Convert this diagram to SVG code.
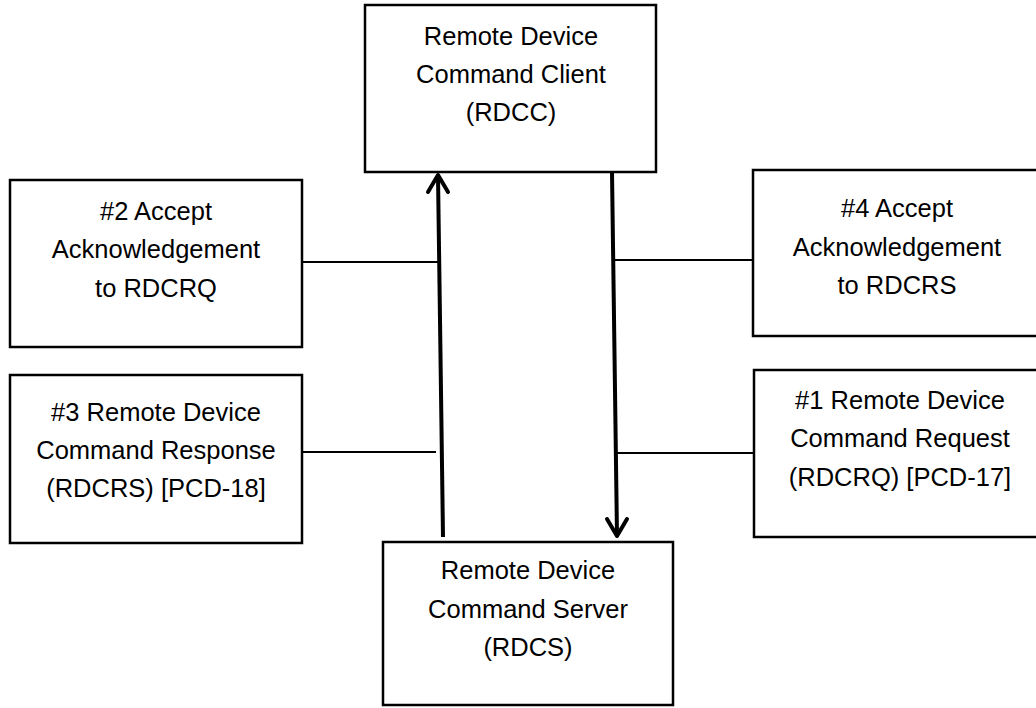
<svg xmlns="http://www.w3.org/2000/svg" width="1036" height="708" viewBox="0 0 1036 708">
  <style>
    .box { fill: #ffffff; stroke: #000000; stroke-width: 2.5; }
    .lbl { font-family: "Liberation Sans", Arial, sans-serif; font-size: 25.5px; fill: #000000; text-anchor: middle; }
    .flow { stroke: #000000; stroke-width: 4; fill: none; }
    .tie { stroke: #000000; stroke-width: 2; fill: none; }
    .head { stroke: #000000; stroke-width: 4; fill: none; stroke-linecap: round; stroke-linejoin: round; }
  </style>
  <rect width="1036" height="708" fill="#ffffff"/>

  <!-- client / server -->
  <g id="rdcc">
    <rect class="box" x="365" y="5" width="291" height="167"/>
    <text class="lbl" x="511" y="45">Remote Device</text>
    <text class="lbl" x="511" y="83">Command Client</text>
    <text class="lbl" x="511" y="121">(RDCC)</text>
  </g>
  <g id="rdcs">
    <rect class="box" x="383" y="542" width="290" height="163"/>
    <text class="lbl" x="528" y="579">Remote Device</text>
    <text class="lbl" x="528" y="618">Command Server</text>
    <text class="lbl" x="528" y="656">(RDCS)</text>
  </g>

  <!-- message boxes -->
  <g id="msg2">
    <rect class="box" x="10" y="180" width="292" height="167"/>
    <text class="lbl" x="156" y="220">#2 Accept</text>
    <text class="lbl" x="156" y="258">Acknowledgement</text>
    <text class="lbl" x="156" y="297">to RDCRQ</text>
  </g>
  <g id="msg3">
    <rect class="box" x="10" y="375" width="292" height="168"/>
    <text class="lbl" x="156" y="421">#3 Remote Device</text>
    <text class="lbl" x="156" y="459">Command Response</text>
    <text class="lbl" x="156" y="497">(RDCRS) [PCD-18]</text>
  </g>
  <g id="msg4">
    <rect class="box" x="753" y="170" width="290" height="166"/>
    <text class="lbl" x="897" y="217">#4 Accept</text>
    <text class="lbl" x="897" y="256">Acknowledgement</text>
    <text class="lbl" x="897" y="294">to RDCRS</text>
  </g>
  <g id="msg1">
    <rect class="box" x="754" y="370" width="295" height="167"/>
    <text class="lbl" x="900" y="409">#1 Remote Device</text>
    <text class="lbl" x="900" y="447">Command Request</text>
    <text class="lbl" x="900" y="486">(RDCRQ) [PCD-17]</text>
  </g>

  <!-- connectors -->
  <g id="connectors">
    <!-- server to client -->
    <line class="flow" x1="443" y1="537" x2="438" y2="175"/>
    <polyline class="head" points="428,192 438,175 448,192"/>
    <!-- client to server -->
    <line class="flow" x1="612" y1="172" x2="617" y2="536"/>
    <polyline class="head" points="607,519 617,536 627,519"/>
    <!-- message ties -->
    <line class="tie" x1="302" y1="262" x2="438" y2="262"/>
    <line class="tie" x1="302" y1="452" x2="436" y2="452"/>
    <line class="tie" x1="614" y1="260" x2="753" y2="260"/>
    <line class="tie" x1="617" y1="453" x2="754" y2="453"/>
  </g>
</svg>
